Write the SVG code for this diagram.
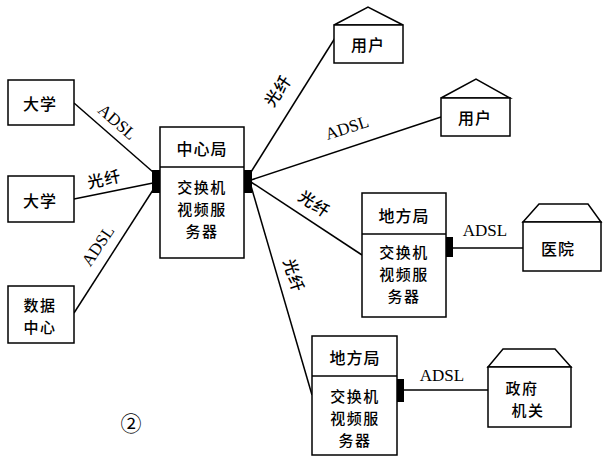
<svg xmlns="http://www.w3.org/2000/svg" width="604" height="459" viewBox="0 0 604 459">
  <style>
    .box { fill: #fff; stroke: #000; stroke-width: 1.5; }
    .port { fill: #000; stroke: none; }
    .link { stroke: #000; stroke-width: 1.5; fill: none; }
    .zh { font-family: "Noto Sans CJK SC", "Noto Sans", sans-serif; font-size: 16px; font-weight: 500; letter-spacing: 1px; fill: #000; text-anchor: middle; dominant-baseline: central; }
    .ml { font-size: 15px; letter-spacing: 1.5px; }
    .lbl { font-family: "Liberation Serif", "Noto Sans CJK SC", serif; font-size: 17px; fill: #000; text-anchor: middle; dominant-baseline: central; }
    .mark { font-family: "Noto Sans CJK SC", sans-serif; font-size: 21px; fill: #000; text-anchor: middle; dominant-baseline: central; }
  </style>
  <rect width="604" height="459" fill="#fff"/>

  <!-- links -->
  <g id="connectors">
    <line class="link" x1="74" y1="103" x2="153" y2="172"/>
    <line class="link" x1="74" y1="199" x2="153" y2="183"/>
    <line class="link" x1="74" y1="313" x2="153" y2="190"/>
    <line class="link" x1="251" y1="172" x2="335" y2="38"/>
    <line class="link" x1="251" y1="180" x2="441" y2="117"/>
    <line class="link" x1="251" y1="182" x2="362" y2="255"/>
    <line class="link" x1="251" y1="186" x2="312" y2="395"/>
    <line class="link" x1="453" y1="248" x2="523" y2="248"/>
    <line class="link" x1="404" y1="390" x2="488" y2="390"/>

    <text class="lbl" transform="translate(117,122) rotate(41)">ADSL</text>
    <text class="zh" transform="translate(104,178) rotate(-12)">光纤</text>
    <text class="lbl" transform="translate(98,246) rotate(-56)">ADSL</text>
    <text class="zh" transform="translate(277,90) rotate(-56)">光纤</text>
    <text class="lbl" transform="translate(347,128) rotate(-18)">ADSL</text>
    <text class="zh" transform="translate(315,203) rotate(34)">光纤</text>
    <text class="zh" transform="translate(295,275) rotate(72)">光纤</text>
    <text class="lbl" x="485" y="230">ADSL</text>
    <text class="lbl" x="442" y="375">ADSL</text>
  </g>

  <!-- left-hand sites -->
  <g id="univ1">
    <rect class="box" x="8" y="80" width="66" height="45"/>
    <text class="zh" x="40" y="103">大学</text>
  </g>
  <g id="univ2">
    <rect class="box" x="8" y="176" width="66" height="46"/>
    <text class="zh" x="40" y="200">大学</text>
  </g>
  <g id="datacenter">
    <rect class="box" x="8" y="286" width="66" height="57"/>
    <text class="zh ml" x="40" y="304">数据</text>
    <text class="zh ml" x="40" y="326">中心</text>
  </g>

  <!-- central office -->
  <g id="central">
    <rect class="box" x="160" y="127" width="84" height="131"/>
    <line class="link" x1="160" y1="167" x2="244" y2="167"/>
    <rect class="port" x="152" y="170" width="8" height="23"/>
    <rect class="port" x="244" y="170" width="8" height="23"/>
    <text class="zh" x="202" y="148">中心局</text>
    <text class="zh ml" x="202" y="186">交换机</text>
    <text class="zh ml" x="202" y="208">视频服</text>
    <text class="zh ml" x="202" y="230">务器</text>
  </g>

  <!-- users -->
  <g id="user1">
    <polygon class="box" points="334,25 368,7 403,25"/>
    <rect class="box" x="334" y="25" width="69" height="38"/>
    <text class="zh" x="368" y="44">用户</text>
  </g>
  <g id="user2">
    <polygon class="box" points="441,98 476,79 510,98"/>
    <rect class="box" x="441" y="98" width="69" height="38"/>
    <text class="zh" x="475" y="117">用户</text>
  </g>

  <!-- local office 1 -->
  <g id="local1">
    <rect class="box" x="362" y="193" width="84" height="124"/>
    <line class="link" x1="362" y1="234" x2="446" y2="234"/>
    <rect class="port" x="446" y="237" width="7" height="20"/>
    <text class="zh" x="404" y="215">地方局</text>
    <text class="zh ml" x="404" y="251">交换机</text>
    <text class="zh ml" x="404" y="273">视频服</text>
    <text class="zh ml" x="404" y="295">务器</text>
  </g>
  <g id="hospital">
    <polygon class="box" points="523,222 539,204 588,204 601,222"/>
    <rect class="box" x="523" y="222" width="78" height="49"/>
    <text class="zh" x="558" y="248">医院</text>
  </g>

  <!-- local office 2 -->
  <g id="local2">
    <rect class="box" x="312" y="336" width="85" height="119"/>
    <line class="link" x1="312" y1="376" x2="397" y2="376"/>
    <rect class="port" x="397" y="379" width="7" height="23"/>
    <text class="zh" x="355" y="357">地方局</text>
    <text class="zh ml" x="355" y="395">交换机</text>
    <text class="zh ml" x="355" y="417">视频服</text>
    <text class="zh ml" x="355" y="439">务器</text>
  </g>
  <g id="government">
    <polygon class="box" points="488,367 503,349 555,349 571,367"/>
    <rect class="box" x="488" y="367" width="83" height="60"/>
    <text class="zh ml" x="522" y="387">政府</text>
    <text class="zh ml" x="528" y="409">机关</text>
  </g>

  <text class="mark" x="131" y="422">②</text>
</svg>
